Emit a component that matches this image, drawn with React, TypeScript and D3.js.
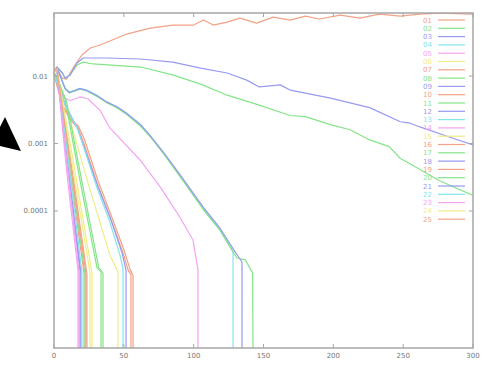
import React from 'react';
import * as d3 from 'd3';

// colours as they show in the picture (pale gnuplot-like)
const RED = '#f2a286';
const GREEN = '#84e488';
const BLUE = '#979af0';
const CYAN = '#84e4ee';
const MAGENTA = '#f5a4f2';
const YELLOW = '#f0ec86';

const xTicks = [0, 50, 100, 150, 200, 250, 300];
const yTicks = [0.01, 0.001, 0.0001];
const yTickLabels = ['0.01', '0.001', '0.0001'];

type Pt = [number, number];

// a value of 0 means the series has died out: the line falls to the bottom
const s01: Pt[] = [[0, 0.0115], [2, 0.0131], [6, 0.0093], [9, 0.009], [11.5, 0.0111], [15, 0.0145], [20, 0.0205], [26, 0.026], [33, 0.0288], [40, 0.033], [52, 0.0419], [69, 0.0514], [85, 0.057], [100, 0.057], [107, 0.0676], [114, 0.057], [124, 0.0631], [133, 0.0723], [145, 0.061], [157, 0.0748], [169, 0.0676], [180, 0.0774], [190, 0.07], [205, 0.0801], [219, 0.0723], [233, 0.0829], [248, 0.0774], [262, 0.0829], [276, 0.0858], [300, 0.0829]];
const s02: Pt[] = [[0, 0.0115], [2, 0.0136], [6, 0.0111], [8, 0.0093], [11.5, 0.0104], [16.5, 0.0146], [21, 0.0161], [28, 0.0151], [62, 0.0136], [85, 0.0104], [105, 0.0076], [124, 0.0052], [147, 0.0037], [169, 0.0026], [180, 0.0025], [198, 0.0019], [212, 0.0016], [226, 0.00113], [240, 0.0009], [248, 0.0006], [258, 0.00046], [276, 0.00028], [300, 0.00017]];
const s03: Pt[] = [[0, 0.0115], [2, 0.0136], [6, 0.0111], [8, 0.0093], [11.5, 0.0104], [16.5, 0.0156], [21, 0.0185], [38, 0.0185], [62, 0.0179], [85, 0.0161], [105, 0.0131], [124, 0.0111], [138, 0.0087], [147, 0.0069], [162, 0.0074], [169, 0.0062], [198, 0.0047], [226, 0.0034], [248, 0.0021], [255, 0.002], [262, 0.00176], [283, 0.00125], [300, 0.00095]];
const s04: Pt[] = [[0, 0.0119], [2, 0.0131], [4, 0.0107], [8, 0.0066], [11, 0.0058], [15, 0.0062], [18.6, 0.0066], [23.6, 0.0062], [30.8, 0.0052], [38, 0.0041], [45, 0.0035], [52, 0.0028], [62, 0.0019], [69, 0.0013], [79.5, 0.00068], [92.4, 0.00029], [106.7, 0.000111], [119, 0.0000524], [128.2, 0.0000247], [128.2, 0]];
const s05: Pt[] = [[0, 0.0115], [3, 0.0087], [6.5, 0.0049], [11.5, 0.0043], [18.6, 0.0049], [24.3, 0.0046], [33, 0.0031], [40, 0.0017], [61.6, 0.00057], [76, 0.000227], [90, 0.0000815], [99.5, 0.0000372], [103.1, 0.0000134], [103.1, 0]];
const s06: Pt[] = [[0, 0.011], [4.3, 0.0058], [11.5, 0.0022], [25.8, 0.000205], [40, 0.0000223], [45.8, 0.0000125], [45.8, 0]];
const s07: Pt[] = [[0, 0.011], [2, 0.0074], [6.5, 0.0034], [12.9, 0.0021], [17.2, 0.0017], [20.8, 0.0011], [30.8, 0.00026], [40, 0.000082], [49.4, 0.000024], [53, 0.0000134], [55.1, 0.0000113], [55.1, 0]];
const s08: Pt[] = [[0, 0.0117], [2, 0.0129], [4, 0.0105], [8, 0.0064], [11, 0.0056], [15, 0.006], [18.6, 0.0064], [23.6, 0.006], [30.8, 0.005], [38, 0.004], [45, 0.0034], [52, 0.0027], [62, 0.0018], [69, 0.00125], [79.5, 0.00066], [92.4, 0.00028], [106.7, 0.000106], [119, 0.000051], [126, 0.0000293], [131, 0.0000201], [137, 0.0000188], [142.2, 0.0000121], [142.5, 0]];
const s09: Pt[] = [[0, 0.0118], [2, 0.013], [4, 0.0106], [8, 0.0065], [11, 0.0057], [15, 0.0061], [18.6, 0.0065], [23.6, 0.0061], [30.8, 0.0051], [38, 0.0041], [45, 0.0035], [52, 0.0028], [62, 0.0019], [69, 0.0013], [79.5, 0.00069], [92.4, 0.0003], [106.7, 0.000115], [119, 0.000055], [128.5, 0.000027], [134.6, 0.0000175], [134.6, 0]];
const s10: Pt[] = [[0, 0.0113], [2, 0.0076], [6.5, 0.0036], [13, 0.0022], [17.5, 0.0018], [21.5, 0.0012], [31.5, 0.00028], [41, 0.000085], [50.5, 0.000025], [54.5, 0.0000135], [56.6, 0.000011], [56.6, 0]];
const s11: Pt[] = [[0, 0.0115], [3, 0.0087], [8, 0.0044], [19.3, 0.00024], [30.8, 0.0000143], [33.7, 0.0000125], [33.7, 0]];
const s12: Pt[] = [[0, 0.0112], [3, 0.0072], [8, 0.0038], [17.2, 0.0016], [31, 0.00024], [41, 0.000072], [49, 0.000023], [51.6, 0.000013], [51.6, 0]];
const s13: Pt[] = [[0, 0.011], [3, 0.0071], [8, 0.0037], [17.2, 0.00158], [30.8, 0.00022], [40, 0.0000687], [47.3, 0.000022], [49.4, 0.000014], [49.4, 0]];
const s14: Pt[] = [[0, 0.0112], [2, 0.0128], [9, 0.0004], [17.2, 0.000013], [17.2, 0]];
const s15: Pt[] = [[0, 0.0116], [2, 0.0127], [14, 0.00052], [27.2, 0.000012], [27.2, 0]];
const s16: Pt[] = [[0, 0.0119], [2, 0.0131], [12.5, 0.00048], [23.6, 0.0000115], [23.6, 0]];
const s17: Pt[] = [[0, 0.0112], [3, 0.0085], [9, 0.0042], [20.5, 0.00024], [32, 0.0000145], [35.1, 0.000012], [35.1, 0]];
const s18: Pt[] = [[0, 0.0115], [2, 0.0131], [10, 0.00042], [18.6, 0.000013], [18.6, 0]];
const s19: Pt[] = [[0, 0.012], [2, 0.013], [11, 0.00045], [21.5, 0.000012], [21.5, 0]];
const s20: Pt[] = [[0, 0.0117], [2, 0.0129], [12, 0.00043], [22.2, 0.0000115], [22.2, 0]];
const s21: Pt[] = [[0, 0.0118], [2, 0.013], [10.5, 0.0004], [19.3, 0.000012], [19.3, 0]];
const s22: Pt[] = [[0, 0.0115], [2, 0.0127], [11, 0.00042], [20, 0.0000125], [20, 0]];
const s23: Pt[] = [[0, 0.0112], [2, 0.0126], [10, 0.00038], [17.9, 0.0000125], [17.9, 0]];
const s24: Pt[] = [[0, 0.0116], [2, 0.0128], [13, 0.0005], [25.8, 0.000012], [25.8, 0]];
const s25: Pt[] = [[0, 0.0119], [2, 0.013], [12, 0.00046], [22.9, 0.000012], [22.9, 0]];

const seriesNames = ['01', '02', '03', '04', '05', '06', '07', '08', '09', '10', '11', '12', '13', '14', '15', '16', '17', '18', '19', '20', '21', '22', '23', '24', '25'];
const seriesColors = [RED, GREEN, BLUE, CYAN, MAGENTA, YELLOW, RED, GREEN, BLUE, RED, GREEN, BLUE, CYAN, MAGENTA, YELLOW, RED, GREEN, BLUE, RED, GREEN, BLUE, CYAN, MAGENTA, YELLOW, RED];
const seriesData = [s01, s02, s03, s04, s05, s06, s07, s08, s09, s10, s11, s12, s13, s14, s15, s16, s17, s18, s19, s20, s21, s22, s23, s24, s25];

const W = 498;
const H = 366;
const margin = { left: 54, right: 25, top: 13, bottom: 18 };

export default function App() {
  const x = d3.scaleLinear().domain([0, 300]).range([margin.left, W - margin.right]);
  const y = d3.scaleLog().domain([9.3e-7, 0.086]).range([H - margin.bottom, margin.top]);
  const [x0, x1] = x.range();
  const [yBottom, yTop] = y.range();

  const line = d3.line<Pt>()
    .x(d => x(d[0]))
    .y(d => (d[1] > 0 ? y(d[1]) : yBottom));

  const font = '"DejaVu Sans", sans-serif';
  const axisColor = '#a6a6a6';

  return (
    <svg width={W} height={H} style={{ position: 'absolute', left: 0, top: 0, background: '#fff' }}>
      <defs>
        <clipPath id="plot">
          <rect x={x0} y={yTop} width={x1 - x0} height={yBottom - yTop} />
        </clipPath>
      </defs>
      <rect width={W} height={H} fill="#fff" />

      {/* series */}
      <g clipPath="url(#plot)" fill="none" strokeWidth={1.2} strokeLinejoin="round">
        {seriesData.map((d, i) => (
          <path key={i} d={line(d) || ''} stroke={seriesColors[i]} />
        ))}
      </g>

      {/* frame */}
      <rect x={x0} y={yTop} width={x1 - x0} height={yBottom - yTop} fill="none" stroke={axisColor} strokeWidth={1.5} />

      {/* x ticks */}
      {xTicks.map(t => (
        <g key={t}>
          <line x1={x(t)} x2={x(t)} y1={yBottom} y2={yBottom - 4} stroke={axisColor} />
          <line x1={x(t)} x2={x(t)} y1={yTop} y2={yTop + 4} stroke={axisColor} />
          <text x={x(t)} y={yBottom + 10} fontSize={7} fill="#777" textAnchor="middle" fontFamily={font}>{t}</text>
        </g>
      ))}

      {/* y ticks */}
      {yTicks.map((t, i) => (
        <g key={t}>
          <line x1={x0} x2={x0 + 4} y1={y(t)} y2={y(t)} stroke={axisColor} />
          <line x1={x1} x2={x1 - 4} y1={y(t)} y2={y(t)} stroke={axisColor} />
          <text x={x0 - 6} y={y(t) + 2.5} fontSize={7} fill="#777" textAnchor="end" fontFamily={font}>{yTickLabels[i]}</text>
        </g>
      ))}

      {/* legend */}
      {seriesNames.map((name, i) => {
        const ly = 20 + i * 8.3;
        return (
          <g key={name}>
            <text x={432} y={ly + 2.5} fontSize={7} fill={seriesColors[i]} textAnchor="end" fontFamily={font}>{name}</text>
            <line x1={438} x2={465} y1={ly} y2={ly} stroke={seriesColors[i]} strokeWidth={1.2} />
          </g>
        );
      })}

      {/* pointer arrow at the left edge */}
      <polygon points="5,117 21,151 0,146 0,127" fill="#000" />
    </svg>
  );
}
